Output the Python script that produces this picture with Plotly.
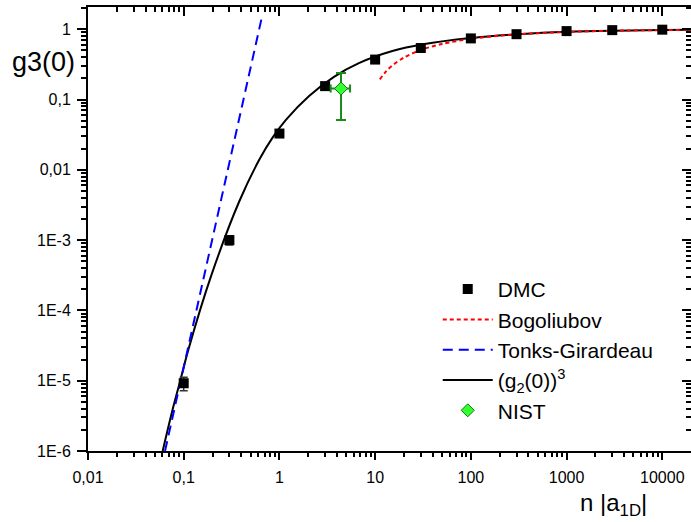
import plotly.graph_objects as go

# DMC results for g3(0) versus n|a1D|
dmc_x = [0.1, 0.3, 1, 3, 10, 30, 100, 300, 1000, 3000, 10000]
dmc_y = [9.2e-6, 1.0e-3, 0.0328, 0.155, 0.37, 0.54, 0.74, 0.85, 0.94, 0.97, 0.985]
dmc_err = [2.0e-6, 1.5e-4, 0, 0, 0, 0, 0, 0, 0, 0, 0]

# Bogoliubov prediction (weak coupling)
bog_x = [11.2, 13, 15, 20, 30, 50, 100, 200, 500, 1000, 3000, 10000, 20000]
bog_y = [0.193, 0.251, 0.303, 0.396, 0.507, 0.618, 0.730, 0.809, 0.879, 0.915, 0.951, 0.973, 0.981]

# Tonks-Girardeau limit (power law)
tg_x = [0.0638, 0.66]
tg_y = [1.0e-6, 1.55]

# (g2(0))^3 curve
g2c_x = [0.0603, 0.0741, 0.0914, 0.1122, 0.195, 0.380, 0.617, 0.851, 1.175, 2.042,
         3.715, 6.761, 15.14, 31.62, 100, 316, 1000, 3162, 10000, 19953]
g2c_y = [1.0e-6, 3.26e-6, 9.7e-6, 2.81e-5, 3.20e-4, 3.54e-3, 0.01403, 0.02897, 0.0518,
         0.1122, 0.2104, 0.3296, 0.4898, 0.611, 0.75, 0.847, 0.917, 0.953, 0.973, 0.981]

# NIST experimental point
nist_x = [4.4]
nist_y = [0.143]
nist_xerr_plus = [1.07]
nist_xerr_minus = [0.97]
nist_yerr_plus = [0.096]
nist_yerr_minus = [0.092]

x_ticks = [0.01, 0.1, 1, 10, 100, 1000, 10000]
x_ticktext = ["0,01", "0,1", "1", "10", "100", "1000", "10000"]
y_ticks = [1e-6, 1e-5, 1e-4, 1e-3, 1e-2, 1e-1, 1]
y_ticktext = ["1E-6", "1E-5", "1E-4", "1E-3", "0,01", "0,1", "1"]

x_minor = [k * 10.0 ** e for e in range(-2, 5) for k in range(2, 10)]
y_minor = [k * 10.0 ** e for e in range(-6, 1) for k in range(2, 10)]

X_RANGE = [-2, 4.30]
Y_RANGE = [-6, 0.316]
FONT = "Liberation Sans, Arial, sans-serif"

fig = go.Figure()

fig.add_trace(go.Scatter(
    x=g2c_x, y=g2c_y, mode="lines", name="(g<sub>2</sub>(0))<sup>3</sup>",
    line=dict(color="black", width=2, shape="spline", smoothing=1),
    legendrank=4))
fig.add_trace(go.Scatter(
    x=bog_x, y=bog_y, mode="lines", name="Bogoliubov",
    line=dict(color="#ff0000", width=2, dash="4px,3px", shape="spline", smoothing=0.8),
    legendrank=2))
fig.add_trace(go.Scatter(
    x=tg_x, y=tg_y, mode="lines", name="Tonks-Girardeau",
    line=dict(color="#0000ff", width=2, dash="10px,6px"),
    legendrank=3))
fig.add_trace(go.Scatter(
    x=dmc_x, y=dmc_y, mode="markers", name="DMC",
    marker=dict(symbol="square", size=10, color="black"),
    error_y=dict(type="data", array=dmc_err, color="#333333", thickness=1.5, width=4),
    legendrank=1))
fig.add_trace(go.Scatter(
    x=nist_x, y=nist_y, mode="markers", name="NIST",
    marker=dict(symbol="diamond", size=10, color="#33ff33",
                line=dict(color="#008000", width=1)),
    error_y=dict(type="data", symmetric=False, array=nist_yerr_plus,
                 arrayminus=nist_yerr_minus, color="#1a8a1a", thickness=2, width=5),
    error_x=dict(type="data", symmetric=False, array=nist_xerr_plus,
                 arrayminus=nist_xerr_minus, color="#1a8a1a", thickness=2, width=4),
    legendrank=5))

# helper trace so the mirrored top/right axes are drawn
fig.add_trace(go.Scatter(x=[1], y=[1], xaxis="x2", yaxis="y2", mode="markers",
                         marker=dict(opacity=0), showlegend=False, hoverinfo="skip"))

axis_common = dict(type="log", showgrid=False, zeroline=False, showline=True,
                   linecolor="black", linewidth=2, tickcolor="black", tickwidth=2)

fig.update_layout(
    width=691, height=522,
    margin=dict(l=88, r=0, t=7, b=71),
    paper_bgcolor="white", plot_bgcolor="white",
    font=dict(family=FONT, color="black", size=16),
    xaxis=dict(**axis_common, range=X_RANGE, ticks="outside", ticklen=7,
               tickvals=x_ticks, ticktext=x_ticktext, ticklabelstandoff=4,
               tickfont=dict(size=16),
               minor=dict(tickvals=x_minor, ticks="outside", ticklen=4,
                          tickcolor="black", tickwidth=1.5)),
    yaxis=dict(**axis_common, range=Y_RANGE, ticks="outside", ticklen=9,
               tickvals=y_ticks, ticktext=y_ticktext, ticklabelstandoff=3,
               tickfont=dict(size=16),
               minor=dict(tickvals=y_minor, ticks="outside", ticklen=5,
                          tickcolor="black", tickwidth=1.5)),
    xaxis2=dict(**axis_common, range=X_RANGE, overlaying="x", side="top", anchor="y",
                ticks="inside", ticklen=9, tickvals=x_ticks, showticklabels=False,
                minor=dict(tickvals=x_minor, ticks="inside", ticklen=5,
                           tickcolor="black", tickwidth=1.5)),
    yaxis2=dict(**axis_common, range=Y_RANGE, overlaying="y", side="right", anchor="x",
                ticks="inside", ticklen=9, tickvals=y_ticks, showticklabels=False,
                minor=dict(tickvals=y_minor, ticks="inside", ticklen=5,
                           tickcolor="black", tickwidth=1.5)),
    legend=dict(x=0.58, y=0.41, xanchor="left", yanchor="top",
                font=dict(family=FONT, size=21), bgcolor="rgba(0,0,0,0)",
                borderwidth=0, tracegroupgap=0, itemwidth=50),
    showlegend=True,
    annotations=[
        dict(text="g3(0)", xref="paper", yref="paper", x=-0.129, y=0.877,
             xanchor="left", yanchor="middle", showarrow=False,
             font=dict(family=FONT, size=27)),
        dict(text="n |a<sub>1D</sub>|", xref="paper", yref="paper", x=0.93, y=-0.12,
             xanchor="right", yanchor="middle", showarrow=False,
             font=dict(family=FONT, size=24)),
    ],
)

fig.write_html("out.html")
